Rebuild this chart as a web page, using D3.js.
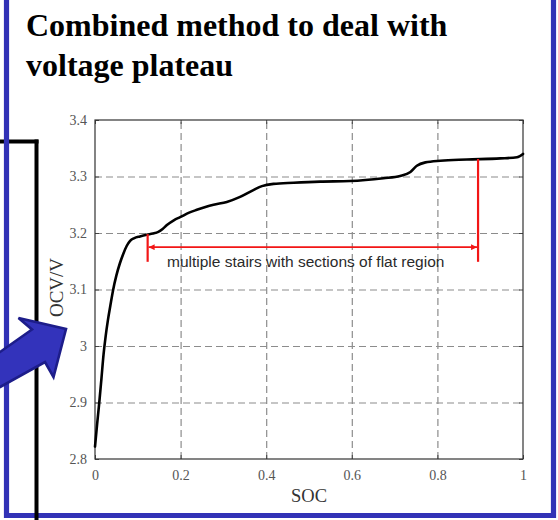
<!DOCTYPE html>
<html>
<head>
<meta charset="utf-8">
<script src="https://cdn.jsdelivr.net/npm/d3@7"></script>
<style>
  html, body { margin: 0; padding: 0; background: #fff; }
  svg { display: block; }
</style>
</head>
<body>
<svg id="chart" width="558" height="520"></svg>
<script>
// Open-circuit voltage vs. state of charge (LiFePO4-like discharge curve)
const soc = [0, 0.005, 0.010, 0.015, 0.020, 0.025, 0.030, 0.036, 0.042, 0.050,
             0.058, 0.066, 0.074, 0.082, 0.092, 0.105, 0.121, 0.135, 0.148, 0.158,
             0.168, 0.185, 0.199, 0.22, 0.238, 0.258, 0.277, 0.308, 0.339, 0.37,
             0.39, 0.417, 0.464, 0.526, 0.596, 0.674, 0.713, 0.737, 0.752, 0.772,
             0.807, 0.869, 0.947, 0.986, 1.0];
const ocv = [2.822, 2.862, 2.9, 2.942, 2.985, 3.018, 3.045, 3.072, 3.098, 3.125,
             3.146, 3.163, 3.177, 3.186, 3.191, 3.194, 3.197, 3.199, 3.202, 3.207,
             3.214, 3.223, 3.228, 3.236, 3.241, 3.246, 3.25, 3.255, 3.264, 3.276,
             3.283, 3.287, 3.289, 3.291, 3.292, 3.297, 3.301, 3.308, 3.319, 3.325,
             3.328, 3.33, 3.332, 3.334, 3.34];

const xTicks = [0, 0.2, 0.4, 0.6, 0.8, 1];
const yTicks = [2.8, 2.9, 3.0, 3.1, 3.2, 3.3, 3.4];

// Flat-region annotation: SOC span and voltage levels
const stairSpan = [0.123, 0.895];
const stairTop = [3.198, 3.331];
const stairBottom = 3.149;
const stairArrowV = 3.175;
const stairLabel = "multiple stairs with sections of flat region";

const titleLines = ["Combined method to deal with", "voltage plateau"];

const svg = d3.select("#chart");
const plot = { left: 95, top: 120, width: 428, height: 339 };

// Black frame fragment on the left (horizontal part sits under the blue border)
svg.append("line").attr("x1", -2).attr("x2", 38.5).attr("y1", 141.5).attr("y2", 141.5)
  .attr("stroke", "#000").attr("stroke-width", 4);

// Blue slide border
const blue = "#3232b6";
svg.append("path")
  .attr("d", `M6.5,0 V515.5 H553.5 V0`)
  .attr("fill", "none").attr("stroke", blue).attr("stroke-width", 5.2);

// Vertical black line crosses over the border
svg.append("line").attr("x1", 36.5).attr("x2", 36.5).attr("y1", 139.5).attr("y2", 520)
  .attr("stroke", "#000").attr("stroke-width", 4);

// Title
const title = svg.append("text")
  .attr("font-family", "'Liberation Serif', 'Times New Roman', serif")
  .attr("font-weight", "bold").attr("font-size", 32).attr("fill", "#000");
titleLines.forEach((t, i) => {
  title.append("tspan").attr("x", 26).attr("y", 36 + i * 40).text(t);
});

// Chart
const x = d3.scaleLinear().domain([0, 1]).range([0, plot.width]);
const y = d3.scaleLinear().domain([2.8, 3.4]).range([plot.height, 0]);

const g = svg.append("g").attr("transform", `translate(${plot.left},${plot.top})`);

g.append("rect").attr("width", plot.width).attr("height", plot.height).attr("fill", "#fff");

// Dashed grid
const gridStyle = sel => {
  sel.select(".domain").remove();
  sel.selectAll("line").attr("stroke", "#8c8c8c").attr("stroke-width", 1.2)
    .attr("stroke-dasharray", "7,4");
};
g.append("g").attr("transform", `translate(0,${plot.height})`)
  .call(d3.axisBottom(x).tickValues(xTicks.slice(1, -1)).tickSize(-plot.height).tickFormat(""))
  .call(gridStyle);
g.append("g")
  .call(d3.axisLeft(y).tickValues(yTicks.slice(1, -1)).tickSize(-plot.width).tickFormat(""))
  .call(gridStyle);

// Axes with inward ticks
const tickFont = "'Liberation Serif', 'Times New Roman', serif";
const axisStyle = sel => {
  sel.select(".domain").remove();
  sel.selectAll("line").attr("stroke", "#444");
  sel.selectAll("text").attr("font-family", tickFont).attr("font-size", 14).attr("fill", "#555");
};
g.append("g").attr("transform", `translate(0,${plot.height})`)
  .call(d3.axisBottom(x).tickValues(xTicks).tickSize(-4).tickPadding(11).tickFormat(d => String(d)))
  .call(axisStyle);
g.append("g")
  .call(d3.axisTop(x).tickValues(xTicks).tickSize(-4).tickFormat(""))
  .call(axisStyle);
g.append("g")
  .call(d3.axisLeft(y).tickValues(yTicks).tickSize(-4).tickPadding(8).tickFormat(d => String(+d.toFixed(1))))
  .call(axisStyle);
g.append("g").attr("transform", `translate(${plot.width},0)`)
  .call(d3.axisRight(y).tickValues(yTicks).tickSize(-4).tickFormat(""))
  .call(axisStyle);

g.append("rect").attr("width", plot.width).attr("height", plot.height)
  .attr("fill", "none").attr("stroke", "#333").attr("stroke-width", 1.2);

// Axis titles
g.append("text").attr("x", plot.width / 2).attr("y", plot.height + 43)
  .attr("text-anchor", "middle").attr("font-family", tickFont).attr("font-size", 18.5)
  .attr("fill", "#333").text("SOC");
g.append("text").attr("transform", `translate(-32,${plot.height / 2 - 2}) rotate(-90)`)
  .attr("text-anchor", "middle").attr("font-family", tickFont).attr("font-size", 19)
  .attr("fill", "#333").text("OCV/V");

// OCV curve
const pts = soc.map((s, i) => [s, ocv[i]]);
g.append("path").datum(pts)
  .attr("fill", "none").attr("stroke", "#000").attr("stroke-width", 2.6)
  .attr("stroke-linejoin", "round").attr("stroke-linecap", "round")
  .attr("d", d3.line().x(d => x(d[0])).y(d => y(d[1])).curve(d3.curveMonotoneX));

// Flat-region annotation
const red = "#f21616";
const defs = svg.append("defs");
["start", "end"].forEach(k => {
  defs.append("marker").attr("id", "ah-" + k)
    .attr("viewBox", "0 0 10 10").attr("refX", k === "end" ? 10 : 0).attr("refY", 5)
    .attr("markerWidth", 9).attr("markerHeight", 6).attr("markerUnits", "userSpaceOnUse")
    .attr("orient", "auto")
    .append("path")
    .attr("d", k === "end" ? "M0,0 L10,5 L0,10 Z" : "M10,0 L0,5 L10,10 Z")
    .attr("fill", red);
});
stairSpan.forEach((s, i) => {
  g.append("line").attr("x1", x(s)).attr("x2", x(s))
    .attr("y1", y(stairTop[i])).attr("y2", y(stairBottom))
    .attr("stroke", red).attr("stroke-width", 2.2);
});
g.append("line")
  .attr("x1", x(stairSpan[0]) + 1).attr("x2", x(stairSpan[1]) - 1)
  .attr("y1", y(stairArrowV)).attr("y2", y(stairArrowV))
  .attr("stroke", red).attr("stroke-width", 1.8)
  .attr("marker-start", "url(#ah-start)").attr("marker-end", "url(#ah-end)");
g.append("text").attr("x", 72).attr("y", y(stairArrowV) + 19.5)
  .attr("font-family", "'Liberation Sans', Arial, sans-serif").attr("font-size", 15.5)
  .attr("fill", "#2a2a2a").text(stairLabel);

// Blue pointer arrow
svg.append("path")
  .attr("d", "M-10,359 L32,329.5 L18.5,318 L66,329 L53.5,377 L45,362 L0,387 L-10,392.5 Z")
  .attr("fill", "#3333bb").attr("stroke", "#1d1d8a").attr("stroke-width", 2.6)
  .attr("stroke-linejoin", "miter");
</script>
</body>
</html>
